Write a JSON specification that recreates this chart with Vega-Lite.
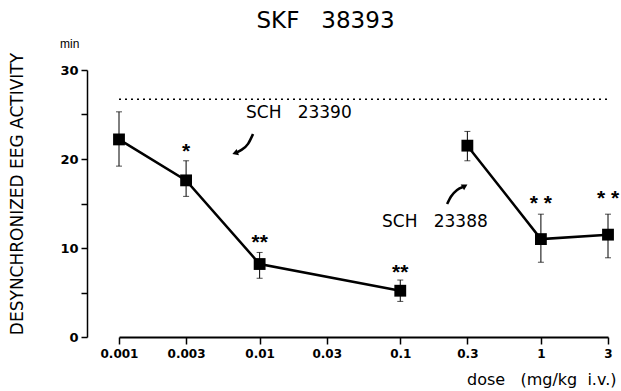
{
  "$schema": "https://vega.github.io/schema/vega-lite/v6.json",
  "width": 489,
  "height": 267,
  "autosize": {"type": "none"},
  "padding": {"left": 119, "top": 70, "right": 13, "bottom": 54},
  "background": "white",
  "config": {
    "view": {"stroke": null},
    "axis": {"grid": false, "domainColor": "black", "tickColor": "black", "labelColor": "black", "titleColor": "black"}
  },
  "title": {
    "text": "SKF\u00a0\u00a0\u00a038393",
    "font": "DejaVu Sans",
    "fontSize": 23,
    "fontWeight": "normal",
    "color": "black",
    "anchor": "middle",
    "dx": -38,
    "baseline": "alphabetic",
    "offset": -13
  },
  "datasets": {
    "pts": [
      {"drug": "SCH 23390", "dose": 0.001, "value": 22.2, "lo": 19.2, "hi": 25.3},
      {"drug": "SCH 23390", "dose": 0.003, "value": 17.6, "lo": 15.8, "hi": 19.8},
      {"drug": "SCH 23390", "dose": 0.01, "value": 8.2, "lo": 6.6, "hi": 9.5},
      {"drug": "SCH 23390", "dose": 0.1, "value": 5.2, "lo": 4.0, "hi": 6.4},
      {"drug": "SCH 23388", "dose": 0.3, "value": 21.5, "lo": 19.8, "hi": 23.1},
      {"drug": "SCH 23388", "dose": 1, "value": 11.0, "lo": 8.4, "hi": 13.8},
      {"drug": "SCH 23388", "dose": 3, "value": 11.5, "lo": 8.9, "hi": 13.8}
    ],
    "ref": [{"dose": 0.001, "dose2": 3, "value": 26.7}],
    "stars": [
      {"dose": 0.003, "value": 21.5, "text": "*"},
      {"dose": 0.01, "value": 11.2, "text": "**"},
      {"dose": 0.1, "value": 7.9, "text": "**"},
      {"dose": 1, "value": 15.6, "text": "* *"},
      {"dose": 3, "value": 16.2, "text": "* *"}
    ],
    "annot": [
      {"dose": 0.008, "value": 25.17, "text": "SCH\u00a0\u00a0\u00a023390"},
      {"dose": 0.0742, "value": 12.92, "text": "SCH\u00a0\u00a0\u00a023388"}
    ],
    "unit": [{"dose": 0.000381, "value": 32.87, "text": "min"}],
    "arrows": [
      {"arrow": "a", "ord": 1, "dose": 0.00897, "value": 22.8},
      {"arrow": "a", "ord": 2, "dose": 0.00827, "value": 21.7},
      {"arrow": "a", "ord": 3, "dose": 0.00737, "value": 21.0},
      {"arrow": "a", "ord": 4, "dose": 0.00690, "value": 20.75},
      {"arrow": "b", "ord": 1, "dose": 0.2153, "value": 14.94},
      {"arrow": "b", "ord": 2, "dose": 0.2296, "value": 15.79},
      {"arrow": "b", "ord": 3, "dose": 0.2535, "value": 16.52},
      {"arrow": "b", "ord": 4, "dose": 0.2790, "value": 16.85}
    ],
    "heads": [
      {"arrow": "a", "dose": 0.00679, "value": 20.7, "angle": 250},
      {"arrow": "b", "dose": 0.2843, "value": 16.91, "angle": 60}
    ]
  },
  "encoding": {
    "x": {
      "field": "dose",
      "type": "quantitative",
      "scale": {"type": "log", "domain": [0.001, 3], "nice": false, "zero": false},
      "axis": {
        "values": [0.001, 0.003, 0.01, 0.03, 0.1, 0.3, 1, 3],
        "format": "~g",
        "tickSize": 7,
        "tickWidth": 1.5,
        "domainWidth": 2,
        "labelFont": "DejaVu Sans",
        "labelFontWeight": "bold",
        "labelFontSize": 12,
        "labelPadding": 4,
        "labelFlush": false,
        "labelOverlap": false,
        "title": "dose\u00a0\u00a0\u00a0(mg/kg\u00a0\u00a0i.v.)",
        "titleFont": "DejaVu Sans",
        "titleFontSize": 16,
        "titleFontWeight": "normal",
        "titleX": 497,
        "titleY": 42,
        "titleAlign": "right",
        "titleBaseline": "middle"
      }
    },
    "y": {
      "field": "value",
      "type": "quantitative",
      "scale": {"domain": [0, 30], "nice": false, "zero": true},
      "axis": {
        "values": [0, 5, 10, 15, 20, 25, 30],
        "labelExpr": "datum.value % 10 == 0 ? datum.label : ''",
        "offset": 32,
        "tickSize": 6,
        "tickWidth": 1.5,
        "domainWidth": 1.5,
        "labelFont": "DejaVu Sans",
        "labelFontWeight": "bold",
        "labelFontSize": 13,
        "labelPadding": 3,
        "title": "DESYNCHRONIZED EEG ACTIVITY",
        "titleFont": "DejaVu Sans",
        "titleFontSize": 17,
        "titleFontWeight": "normal",
        "titleX": -69.5,
        "titleY": 123.5,
        "titleAngle": -90,
        "titleAlign": "center",
        "titleBaseline": "middle"
      }
    }
  },
  "layer": [
    {
      "data": {"name": "ref"},
      "mark": {"type": "rule", "strokeDash": [2, 4], "strokeWidth": 1.5, "color": "black"},
      "encoding": {"x2": {"field": "dose2"}}
    },
    {
      "data": {"name": "pts"},
      "mark": {"type": "errorbar", "ticks": {"size": 6, "thickness": 1, "color": "black"}, "rule": {"strokeWidth": 1, "color": "black"}},
      "encoding": {
        "y": {"field": "lo", "type": "quantitative"},
        "y2": {"field": "hi"}
      }
    },
    {
      "data": {"name": "pts"},
      "mark": {"type": "line", "color": "black", "strokeWidth": 2.5},
      "encoding": {"detail": {"field": "drug"}}
    },
    {
      "data": {"name": "pts"},
      "mark": {"type": "point", "shape": "square", "filled": true, "size": 140, "color": "black", "opacity": 1}
    },
    {
      "data": {"name": "stars"},
      "mark": {"type": "text", "font": "Liberation Sans", "fontWeight": "bold", "fontSize": 21, "baseline": "alphabetic", "dy": 12, "color": "black"},
      "encoding": {"text": {"field": "text"}}
    },
    {
      "data": {"name": "annot"},
      "mark": {"type": "text", "font": "DejaVu Sans", "fontSize": 17, "align": "left", "baseline": "middle", "color": "black"},
      "encoding": {"text": {"field": "text"}}
    },
    {
      "data": {"name": "unit"},
      "mark": {"type": "text", "font": "Liberation Sans", "fontSize": 12, "align": "left", "baseline": "middle", "color": "black"},
      "encoding": {"text": {"field": "text"}}
    },
    {
      "data": {"name": "arrows"},
      "mark": {"type": "line", "color": "black", "strokeWidth": 2.5, "interpolate": "monotone"},
      "encoding": {"detail": {"field": "arrow"}, "order": {"field": "ord"}}
    },
    {
      "data": {"name": "heads"},
      "mark": {"type": "point", "shape": "triangle", "filled": true, "size": 45, "color": "black", "opacity": 1},
      "encoding": {"angle": {"field": "angle", "type": "quantitative", "scale": null}}
    }
  ]
}
